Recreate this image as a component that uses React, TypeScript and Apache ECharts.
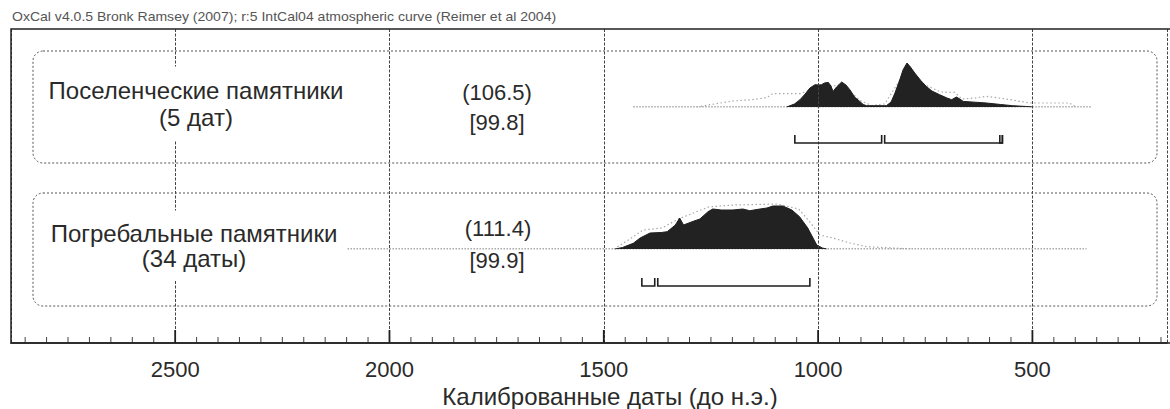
import React, { useEffect, useRef } from "react";
import * as echarts from "echarts";

// ---- data (calendar years BC, relative probability heights) ----
const tickLabels = [500, 1000, 1500, 2000, 2500];
const minorTickStep = 50;
const headerText = "OxCal v4.0.5 Bronk Ramsey (2007); r:5 IntCal04 atmospheric curve (Reimer et al 2004)";
const axisTitle = "Калиброванные даты (до н.э.)";
const groupNames = ["Поселенческие памятники\n(5 дат)", "Погребальные памятники\n(34 даты)"];
const agreementA = ["(106.5)", "(111.4)"];
const agreementB = ["[99.8]", "[99.9]"];

const settlePosterior: [number, number][] = [
  [1078, 0], [1060, 3], [1047, 7.3], [1035, 13], [1024, 19], [1012, 22.3], [1003, 22], [997, 22.3],
  [990, 24], [981, 24.6], [975, 21], [970, 15.6], [962, 20], [950, 25], [940, 22], [931, 17.3],
  [920, 10], [908, 5.6], [900, 2.5], [892, 1.3], [846, 1.3], [835, 5], [826, 14], [815, 27],
  [807, 37.3], [798, 44], [790, 40], [780, 34], [765, 26], [753, 20.6], [740, 16], [722, 12.3],
  [705, 9], [694, 7.3], [683, 10], [675, 8], [667, 5.6], [640, 4.8], [613, 4], [580, 2.5],
  [552, 1.3], [520, 0.5], [505, 0],
];
const settlePrior: [number, number][] = [
  [1287, 0], [1241, 3.4], [1203, 6], [1157, 7.4], [1125, 9.4], [1110, 13.4], [1047, 13.4],
  [1000, 20], [950, 22], [905, 6], [880, 1.5], [850, 3], [810, 30], [770, 25], [720, 15],
  [687, 14.6], [670, 8], [640, 9], [613, 10.6], [567, 8], [512, 4], [460, 4], [420, 4], [405, 0],
];
const settleBaseline: [number, number][] = [[1435, 0], [369, 0]];
const settleRanges: [number, number][] = [[1059, 857], [850, 576], [582, 576]];

const burialPosterior: [number, number][] = [
  [1477, 0], [1460, 1.5], [1435, 5.7], [1419, 11], [1396, 16], [1370, 16.5], [1356, 17.3],
  [1337, 24], [1327, 31], [1318, 24], [1298, 27.3], [1280, 30], [1261, 37.3], [1250, 40],
  [1230, 39], [1203, 39], [1180, 40], [1164, 38.3], [1140, 40], [1124, 41], [1110, 43],
  [1087, 43], [1066, 39], [1048, 32.3], [1029, 21], [1008, 4], [995, 1], [985, 0],
];
const burialPrior: [number, number][] = [
  [1480, 0], [1450, 8], [1412, 19], [1368, 21], [1330, 30], [1260, 42], [1200, 44], [1100, 45],
  [1050, 40], [1020, 25], [1001, 14], [971, 11], [931, 6], [892, 2.3], [831, 1], [784, 0],
];
const burialBaseline: [number, number][] = [[2100, 0], [380, 0]];
const burialRanges: [number, number][] = [[1415, 1385], [1378, 1024]];

const FONT = "'Liberation Sans', Arial, sans-serif";
const X_MIN = 186;
const X_MAX = 2883;

const minorTicks: number[] = [];
for (let v = Math.ceil(X_MIN / minorTickStep) * minorTickStep; v < X_MAX; v += minorTickStep) {
  if (!tickLabels.includes(v)) minorTicks.push(v);
}

function rangeSeries(gridIdx: number, data: [number, number][], offset: number) {
  return {
    type: "custom",
    xAxisIndex: gridIdx,
    yAxisIndex: gridIdx,
    encode: { x: [0, 1] },
    data,
    z: 5,
    renderItem: (_p: any, api: any) => {
      const s = api.coord([api.value(0), 0]);
      const e = api.coord([api.value(1), 0]);
      const base = s[1] + offset;
      const h = 8;
      return {
        type: "polyline",
        shape: { points: [[s[0], base - h], [s[0], base], [e[0], base], [e[0], base - h]] },
        style: { stroke: "#1e1e1e", lineWidth: 1.6, fill: null },
      };
    },
  };
}

function tickSeries(values: number[], len: number, width: number, color: string) {
  return {
    type: "custom",
    xAxisIndex: 0,
    yAxisIndex: 0,
    encode: { x: 0 },
    data: values.map((v) => [v]),
    z: 6,
    silent: true,
    renderItem: (_p: any, api: any) => {
      const p = api.coord([api.value(0), 0]);
      return {
        type: "line",
        shape: { x1: p[0], y1: p[1], x2: p[0], y2: p[1] - len },
        style: { stroke: color, lineWidth: width },
      };
    },
  };
}

function distSeries(gridIdx: number, posterior: any, prior: any, baseline: any) {
  return [
    {
      type: "line", xAxisIndex: gridIdx, yAxisIndex: gridIdx, data: baseline, showSymbol: false,
      lineStyle: { color: "#555", width: 1.2, type: [1.5, 1.5] }, z: 1, silent: true,
    },
    {
      type: "line", xAxisIndex: gridIdx, yAxisIndex: gridIdx, data: prior, showSymbol: false,
      lineStyle: { color: "#a8a8a8", width: 1.2, type: [1.5, 2.5] }, z: 2, silent: true,
    },
    {
      type: "line", xAxisIndex: gridIdx, yAxisIndex: gridIdx, data: posterior, showSymbol: false,
      lineStyle: { color: "#1e1e1e", width: 1 }, areaStyle: { color: "#222", opacity: 1 }, z: 3, silent: true,
    },
  ];
}

export default function App() {
  const ref = useRef<HTMLDivElement>(null);
  useEffect(() => {
    if (!ref.current) return;
    const chart = echarts.init(ref.current, undefined, { renderer: "svg" });
    const hiddenX = (gi: number) => ({
      type: "value", gridIndex: gi, min: X_MIN, max: X_MAX, inverse: true, show: false,
    });
    const hiddenY = (gi: number) => ({ type: "value", gridIndex: gi, min: 0, max: 50, show: false });
    chart.setOption({
      animation: false,
      backgroundColor: "#fff",
      grid: [
        { left: 11, right: 0, top: 29, bottom: 66 },
        { left: 11, right: 0, top: 57, height: 50 },
        { left: 11, right: 0, top: 199, height: 50 },
      ],
      xAxis: [
        {
          type: "value", gridIndex: 0, min: X_MIN, max: X_MAX, inverse: true, splitNumber: 5,
          position: "bottom", z: 4,
          axisLine: { show: true, lineStyle: { color: "#1e1e1e", width: 1.5 } },
          axisTick: { show: false },
          splitLine: { show: true, lineStyle: { color: "#444", width: 1, type: [3, 1.5] } },
          axisLabel: {
            margin: 15, fontSize: 22, color: "#2a2a2a", fontFamily: FONT,
            formatter: (v: number) => (tickLabels.includes(v) ? String(v) : ""),
          },
        },
        hiddenX(1),
        hiddenX(2),
      ],
      yAxis: [
        { type: "value", gridIndex: 0, show: false, min: 0, max: 1 },
        hiddenY(1),
        hiddenY(2),
      ],
      series: [
        ...distSeries(1, settlePosterior, settlePrior, settleBaseline),
        rangeSeries(1, settleRanges, 36),
        ...distSeries(2, burialPosterior, burialPrior, burialBaseline),
        rangeSeries(2, burialRanges, 37),
        tickSeries(minorTicks, 6, 1, "#444"),
        tickSeries(tickLabels, 13, 1.8, "#1e1e1e"),
      ],
      graphic: [
        {
          type: "text", z: 60, x: 12, y: 17, scaleX: 1.17,
          style: { text: headerText, fill: "#555", font: `12px ${FONT}`, textVerticalAlign: "middle" },
        },
        {
          type: "rect", z: 40, shape: { x: 11, y: 29, width: 1200, height: 314 },
          style: { fill: "none", stroke: "#222", lineWidth: 1.5 },
        },
        {
          type: "rect", z: 40, shape: { x: 33, y: 51, width: 1124, height: 112, r: 10 },
          style: { fill: "none", stroke: "#555", lineWidth: 1, lineDash: [2, 2] },
        },
        {
          type: "rect", z: 40, shape: { x: 33, y: 193, width: 1124, height: 113, r: 10 },
          style: { fill: "none", stroke: "#555", lineWidth: 1, lineDash: [2, 2] },
        },
        {
          type: "text", z: 60, x: 196, y: 103.5,
          style: {
            text: groupNames[0], fill: "#2a2a2a", font: `24px ${FONT}`, lineHeight: 27,
            textAlign: "center", textVerticalAlign: "middle", backgroundColor: "#fff", padding: [10, 6],
          },
        },
        {
          type: "text", z: 60, x: 194, y: 245.5,
          style: {
            text: groupNames[1], fill: "#2a2a2a", font: `24px ${FONT}`, lineHeight: 25,
            textAlign: "center", textVerticalAlign: "middle", backgroundColor: "#fff", padding: [10, 6],
          },
        },
        {
          type: "text", z: 60, x: 497, y: 92,
          style: { text: agreementA[0], fill: "#2a2a2a", font: `22px ${FONT}`, textAlign: "center", textVerticalAlign: "middle" },
        },
        {
          type: "text", z: 60, x: 497, y: 122,
          style: { text: agreementB[0], fill: "#2a2a2a", font: `22px ${FONT}`, textAlign: "center", textVerticalAlign: "middle" },
        },
        {
          type: "text", z: 60, x: 498, y: 228,
          style: { text: agreementA[1], fill: "#2a2a2a", font: `22px ${FONT}`, textAlign: "center", textVerticalAlign: "middle" },
        },
        {
          type: "text", z: 60, x: 497, y: 260,
          style: { text: agreementB[1], fill: "#2a2a2a", font: `22px ${FONT}`, textAlign: "center", textVerticalAlign: "middle" },
        },
        {
          type: "text", z: 60, x: 610, y: 396,
          style: { text: axisTitle, fill: "#2a2a2a", font: `24px ${FONT}`, textAlign: "center", textVerticalAlign: "middle" },
        },
      ],
    });
    return () => chart.dispose();
  }, []);
  return (
    <div
      ref={ref}
      style={{ position: "fixed", left: 0, top: 0, width: 1170, height: 409, background: "#fff" }}
    />
  );
}
